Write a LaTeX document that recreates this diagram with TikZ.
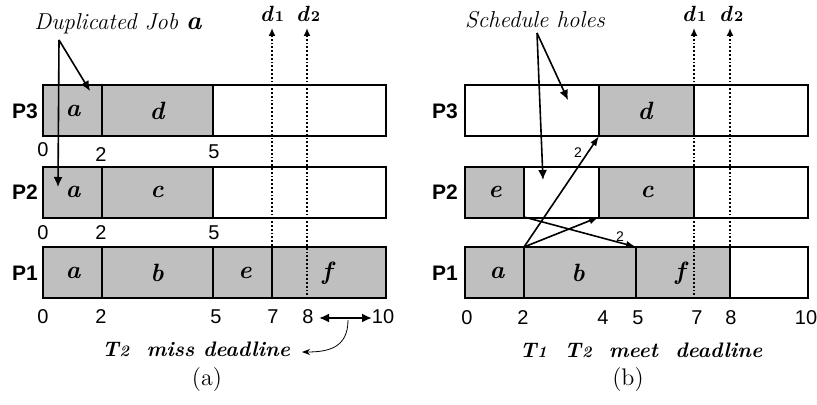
\documentclass[tikz,border=0pt]{standalone}
\usepackage{fontspec}
\newfontfamily\lsans{Liberation Sans}
\usepackage{amsmath,amssymb}
\usepackage{xcolor}
\usepackage{tikz}
\usetikzlibrary{arrows.meta,positioning,calc}
\definecolor{jobgray}{gray}{0.75}
\tikzset{
  job/.style={draw=black,line width=0.9pt,fill=jobgray},
  hole/.style={draw=black,line width=0.9pt,fill=white},
  jlab/.style={font=\fontsize{12.5}{12}\selectfont\bfseries\itshape},
  plab/.style={font=\lsans\bfseries\fontsize{10.5}{12}\selectfont},
  tnum/.style={font=\lsans\fontsize{10}{10}\selectfont},
  cnum/.style={font=\lsans\fontsize{7}{7}\selectfont},
  note/.style={font=\fontsize{11.5}{11}\selectfont\itshape\addfontfeatures{LetterSpace=16}},
  bnote/.style={font=\fontsize{10.5}{11}\selectfont\bfseries\itshape\addfontfeatures{LetterSpace=8}},
  ptr/.style={line width=0.8pt,-{Latex[length=5pt,width=4.5pt]}},
  dline/.style={densely dotted,line width=0.9pt,-{Latex[length=4pt,width=3.5pt]}},
  msg/.style={line width=0.8pt,-{Latex[length=5pt,width=3.5pt]}},
  capt/.style={font=\fontsize{12}{12}\selectfont},
}
\newcommand{\dsub}[2]{\textbf{\textit{#1}}\kern0.6pt{\fontsize{7.5}{7}\selectfont\bfseries #2}}

\begin{document}
\begin{tikzpicture}[x=0.5pt,y=-0.5pt]
  \useasboundingbox (0,0) rectangle (817,405);
  % (a) schedule
  \foreach \xa/\xb/\y/\sty in {43/102/85/job,102/213/85/job,213/386/85/hole,
      43/102/167/job,102/213/167/job,213/386/167/hole,
      43/102/247/job,102/213/247/job,213/272/247/job,272/386/247/job}{%
    \draw[\sty] (\xa,\y) rectangle (\xb,\y+51);}
  \foreach \x/\y/\l in {73/111/a,157/111/d,73/192/a,157/192/c,
      73/273/a,157/273/b,245/273/e,327/273/f}{%
    \node[jlab] at (\x,\y) {\l};}
  \node[plab] (pa3) at (25,111) {P3};
  \node[plab] (pa2) at (25,192) {P2};
  \node[plab] (pa1) at (25,273) {P1};
  \foreach \x/\y/\l in {43/150/0,101/155/2,214/152/5,43/233/0,101/233/2,214/233/5,
      43/317/0,101/317/2,216/317/5,273/317/7,308/317/8,383/317/10}{%
    \node[tnum] at (\x,\y) {\l};}
  % deadlines (a)
  \coordinate (da1) at (272,299); \coordinate (da1t) at (272,28);
  \coordinate (da2) at (307,299); \coordinate (da2t) at (307,28);
  \draw[dline] (da1) -- (da1t);
  \draw[dline] (da2) -- (da2t);
  \node[font=\fontsize{11}{10}\selectfont] (lda1) at (272,14) {\dsub{d}{1}};
  \node[font=\fontsize{11}{10}\selectfont] (lda2) at (308,14) {\dsub{d}{2}};
  % duplicated job
  \node[note] (dup) at (118,24) {Duplicated Job \textbf{\fontsize{13}{12}\selectfont a}};
  \coordinate (dupS) at (59,40);
  \coordinate (dupA3) at (90,91);
  \coordinate (dupA2) at (58,187);
  \draw[ptr] (dupS) -- (dupA3);
  \draw[ptr] (dupS) -- (dupA2);
  % miss deadline
  \coordinate (m8) at (319,318); \coordinate (m10) at (372,318);
  \coordinate (mS) at (348,320);
  \draw[line width=1pt,{Latex[length=5pt,width=4.5pt]}-{Latex[length=5pt,width=4.5pt]}] (m8) -- (m10);
  \node[bnote] (miss) at (196,349) {T\kern0.5pt{\fontsize{8}{7}\selectfont 2}\ \ miss deadline};
  \draw[thin,-{Stealth[length=4pt,width=3pt]}] (mS) .. controls (348,348) and (328,352) .. (302,352);
  \node[capt] (capa) at (207,380) {(a)};

  % (b) schedule
  \foreach \xa/\xb/\y/\sty in {465/599/85/hole,599/694/85/job,694/808/85/hole,
      465/524/167/job,524/599/167/hole,599/694/167/job,694/808/167/hole,
      465/524/247/job,524/636/247/job,636/730/247/job,730/808/247/hole}{%
    \draw[\sty] (\xa,\y) rectangle (\xb,\y+51);}
  \foreach \x/\y/\l in {645/111/d,495/192/e,647/192/c,
      497/273/a,578/273/b,680/273/f}{%
    \node[jlab] at (\x,\y) {\l};}
  \node[plab] (pb3) at (445,111) {P3};
  \node[plab] (pb2) at (445,192) {P2};
  \node[plab] (pb1) at (445,273) {P1};
  \foreach \x/\l in {467/0,523/2,603/4,638/5,697/7,731/8,806/10}{%
    \node[tnum] at (\x,318) {\l};}
  % deadlines (b)
  \coordinate (db1) at (694,299); \coordinate (db1t) at (694,28);
  \coordinate (db2) at (730,299); \coordinate (db2t) at (730,28);
  \draw[dline] (db1) -- (db1t);
  \draw[dline] (db2) -- (db2t);
  \node[font=\fontsize{11}{10}\selectfont] (ldb1) at (694,14) {\dsub{d}{1}};
  \node[font=\fontsize{11}{10}\selectfont] (ldb2) at (731,14) {\dsub{d}{2}};
  % schedule holes
  \node[note] (holes) at (535,20) {Schedule holes};
  \coordinate (holS) at (537,33);
  \coordinate (hol3) at (568,100);
  \coordinate (hol2) at (543,180);
  \draw[ptr] (holS) -- (hol3);
  \draw[ptr] (holS) -- (hol2);
  % messages
  \coordinate (a1end) at (524,247);
  \coordinate (e2end) at (524,217);
  \coordinate (d3st) at (599,136);
  \coordinate (c2st) at (599,217);
  \coordinate (f1st) at (636,247);
  \draw[msg] (a1end) -- (d3st);
  \draw[msg] (a1end) -- (c2st);
  \draw[msg] (e2end) -- (f1st);
  \node[cnum] (w1) at (578,153) {2};
  \node[cnum] (w2) at (620,237) {2};
  \node[bnote] (meet) at (641,350) {T\kern0.5pt{\fontsize{8}{7}\selectfont 1}\ \ T\kern0.5pt{\fontsize{8}{7}\selectfont 2}\ \ meet\ \ deadline};
  \node[capt] (capb) at (628,380) {(b)};
\end{tikzpicture}
\end{document}
